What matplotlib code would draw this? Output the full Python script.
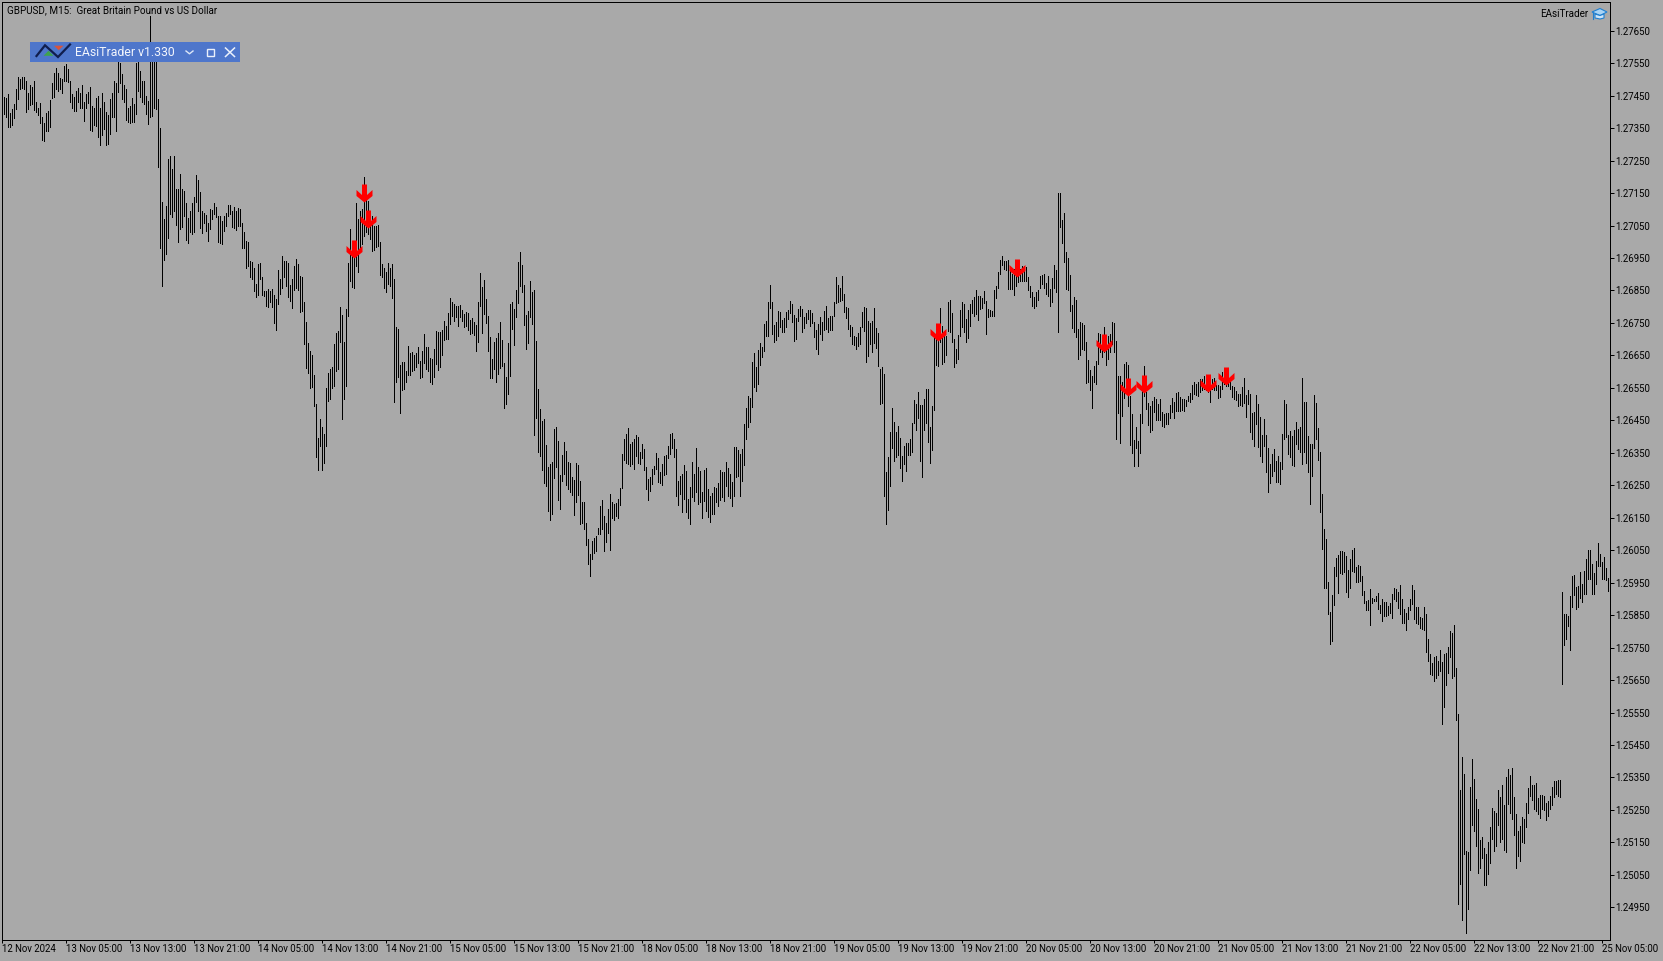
import numpy as np
import matplotlib
matplotlib.use("Agg")
import matplotlib.pyplot as plt
from matplotlib.path import Path
from matplotlib.patches import Rectangle, Polygon

# Prices are in 1e-5 units above PRICE_BASE
PRICE_BASE = 1.2
segment_starts = [0, 113, 228, 343, 458, 573, 688]

highs_1 = [7447,7444,7455,7396,7408,7424,7470,7506,7501,7509,7509,7496,7458,7482,7478,7494,7429,7413,7426,7383,7367,7396,7402,7436,7488,7519,7535,7519,7503,7501,7540,7547,7532,7494,7455,7447,7465,7475,7457,7483,7429,7455,7460,7478,7419,7413,7443,7449,7413,7457,7429,7400,7390,7439,7458,7496,7490,7583,7552,7516,7483,7470,7411,7419,7444,7424,7552,7562,7526,7496,7494,7449,7434,7695,7562,7557,7557,7441,7349,7123,7069,7110,7254,7265,7223,7265,7162,7164,7208,7164,7157,7119,7072,7095,7119,7139,7205,7190,7152,7095,7088,7082,7057,7100,7097,7119,7108,7080,7080,7064,7078,7090,7113]
lows_1 = [7393,7383,7355,7354,7359,7380,7408,7441,7470,7475,7470,7400,7410,7422,7424,7405,7400,7390,7367,7314,7309,7340,7342,7352,7444,7447,7470,7465,7470,7458,7494,7496,7493,7431,7413,7403,7403,7429,7413,7413,7372,7413,7427,7345,7342,7359,7357,7324,7298,7329,7347,7298,7300,7331,7383,7383,7342,7462,7490,7439,7432,7375,7369,7367,7369,7369,7393,7465,7447,7429,7424,7393,7362,7383,7386,7413,7410,7229,6980,6864,6944,6962,7011,7085,7075,7095,7051,7000,7039,7044,7080,7006,6995,7030,7023,7030,7123,7095,7042,7026,7059,7033,7003,7039,7071,7085,7075,7000,6995,6992,7033,7049,7078]

highs_2 = [7113,7096,7108,7096,7103,7101,7057,7029,7003,7000,6942,6939,6918,6870,6931,6934,6890,6849,6849,6854,6849,6854,6836,6823,6914,6885,6955,6942,6942,6934,6867,6885,6926,6947,6931,6895,6893,6813,6752,6688,6664,6651,6589,6500,6397,6454,6428,6408,6551,6595,6608,6613,6685,6719,6724,6798,6774,6690,6793,6936,7039,6993,6959,7119,7070,7096,7101,7201,7137,7126,7049,7080,7049,7049,7051,6998,6931,6918,6908,6934,6918,6931,6885,6736,6731,6620,6630,6630,6603,6678,6657,6661,6651,6656,6675,6633,6664,6716,6675,6677,6641,6639,6669,6724,6723,6721,6729,6757,6741,6780,6826,6815,6808,6801,6803]
lows_2 = [7085,7047,7041,7037,7049,7049,6981,6980,6920,6926,6893,6885,6849,6829,6836,6885,6836,6834,6801,6798,6813,6798,6750,6729,6808,6839,6859,6893,6865,6829,6818,6795,6852,6859,6852,6784,6788,6685,6611,6595,6551,6554,6493,6336,6298,6370,6298,6318,6372,6510,6515,6551,6556,6603,6608,6690,6454,6515,6556,6772,6880,6862,6859,6924,6908,6978,6993,7019,7029,7024,7010,6972,6975,6983,6986,6897,6890,6857,6846,6870,6865,6827,6505,6567,6582,6472,6544,6546,6567,6589,6589,6603,6606,6613,6628,6580,6582,6628,6608,6603,6567,6562,6582,6623,6606,6613,6651,6698,6700,6700,6746,6772,6757,6767,6741]

highs_3 = [6805,6789,6777,6785,6780,6758,6764,6754,6743,6816,6905,6862,6882,6825,6770,6708,6640,6690,6703,6720,6754,6697,6628,6582,6688,6808,6813,6794,6851,6939,6970,6928,6866,6774,6786,6879,6844,6851,6693,6546,6484,6448,6453,6373,6307,6315,6323,6423,6428,6387,6281,6343,6382,6355,6323,6320,6274,6265,6320,6312,6262,6197,6200,6133,6086,6037,6078,6089,6094,6117,6186,6204,6156,6135,6176,6224,6199,6192,6195,6207,6243,6346,6392,6409,6425,6376,6382,6392,6404,6400,6354,6376,6361,6305,6269,6274,6301,6308,6349,6335,6292,6315,6340,6343,6370,6407,6410,6392,6361,6263,6279,6284,6312,6293,6207]
lows_3 = [6767,6756,6738,6741,6729,6715,6718,6713,6664,6692,6803,6718,6777,6749,6664,6581,6581,6607,6568,6592,6611,6616,6488,6500,6530,6587,6731,6681,6768,6811,6864,6846,6744,6669,6688,6768,6746,6405,6458,6353,6340,6297,6256,6248,6171,6143,6161,6272,6307,6205,6176,6263,6284,6250,6238,6230,6219,6159,6197,6219,6130,6133,6115,6065,6007,5970,6022,6041,6047,6100,6099,6115,6047,6075,6102,6051,6148,6142,6156,6148,6188,6243,6327,6320,6315,6308,6315,6299,6340,6320,6317,6335,6296,6238,6205,6233,6253,6284,6299,6260,6256,6250,6282,6284,6335,6346,6366,6338,6217,6189,6222,6168,6207,6168,6149]

highs_4 = [6244,6321,6285,6364,6305,6294,6228,6297,6302,6238,6218,6226,6245,6241,6257,6297,6290,6290,6321,6303,6285,6259,6368,6367,6359,6346,6362,6439,6488,6524,6518,6629,6656,6613,6667,6688,6675,6747,6756,6813,6867,6813,6744,6752,6787,6783,6759,6764,6783,6790,6817,6808,6775,6764,6793,6801,6793,6767,6780,6790,6790,6780,6752,6728,6747,6767,6752,6786,6801,6764,6772,6770,6813,6891,6867,6858,6894,6839,6800,6795,6744,6736,6709,6708,6719,6736,6783,6798,6795,6756,6750,6757,6795,6733,6719,6608,6613,6593,6290,6336,6413,6487,6444,6413,6433,6395,6341,6372,6380,6380,6392,6442,6512,6499,6536]
lows_4 = [6131,6213,6202,6228,6192,6197,6150,6202,6172,6151,6138,6161,6161,6197,6187,6206,6213,6202,6249,6216,6212,6187,6216,6274,6279,6218,6264,6313,6392,6430,6444,6490,6552,6541,6562,6621,6646,6665,6711,6711,6796,6716,6692,6698,6711,6739,6723,6723,6739,6762,6781,6752,6695,6700,6757,6770,6723,6733,6750,6762,6740,6750,6708,6670,6655,6716,6698,6728,6731,6723,6728,6729,6770,6811,6816,6819,6822,6783,6765,6731,6709,6685,6682,6670,6680,6685,6736,6726,6631,6649,6685,6659,6687,6672,6616,6500,6503,6218,6131,6175,6249,6366,6326,6336,6344,6302,6264,6315,6295,6344,6344,6354,6442,6421,6456]

highs_5 = [6497,6497,6515,6546,6548,6428,6493,6710,6710,6710,6795,6741,6710,6710,6813,6821,6782,6700,6669,6712,6789,6813,6808,6762,6790,6807,6820,6831,6852,6834,6834,6828,6849,6817,6792,6790,6787,6851,6864,6908,6943,6955,6941,6941,6943,6916,6900,6916,6926,6926,6916,6924,6924,6921,6893,6864,6844,6831,6844,6851,6895,6897,6902,6873,6895,6854,6887,6928,6914,7149,7150,7067,7088,6967,6949,6897,6805,6831,6821,6731,6754,6749,6743,6690,6635,6606,6587,6616,6633,6719,6715,6700,6736,6690,6710,6715,6754,6749,6693,6587,6587,6569,6622,6631,6620,6525,6469,6389,6428,6387,6468,6546,6618,6536,6503]
lows_5 = [6325,6276,6421,6443,6382,6318,6359,6482,6620,6618,6690,6623,6630,6651,6726,6721,6690,6615,6628,6638,6710,6736,6721,6690,6703,6741,6780,6772,6777,6760,6792,6796,6811,6716,6767,6772,6772,6772,6827,6859,6900,6928,6916,6914,6854,6854,6854,6837,6864,6875,6880,6880,6880,6880,6851,6831,6803,6797,6801,6820,6859,6870,6857,6839,6834,6803,6813,6859,6846,6723,7047,6996,6938,6854,6851,6787,6734,6721,6708,6638,6651,6669,6667,6564,6567,6544,6487,6567,6561,6623,6659,6644,6659,6620,6638,6659,6685,6659,6392,6474,6380,6464,6520,6546,6495,6373,6349,6310,6366,6310,6349,6443,6525,6484,6435]

highs_6 = [6493,6509,6521,6516,6501,6516,6475,6469,6472,6472,6497,6519,6506,6534,6536,6523,6516,6516,6514,6526,6533,6559,6567,6562,6567,6578,6578,6586,6583,6583,6578,6578,6581,6559,6559,6555,6598,6598,6583,6583,6567,6555,6554,6540,6531,6531,6552,6581,6528,6544,6531,6473,6475,6528,6501,6459,6405,6454,6405,6365,6316,6346,6362,6324,6341,6321,6408,6513,6501,6405,6418,6401,6420,6444,6424,6431,6581,6506,6506,6401,6377,6377,6528,6504,6426,6354,6223,6115,6085,5953,5859,5912,5997,6025,6035,6048,6049,6044,6033,5990,6023,6052,6057,5997,6005,6000,5970,5925,5895,5898,5929,5902,5900,5908,5918]
lows_6 = [6415,6419,6475,6451,6452,6452,6434,6430,6440,6440,6457,6475,6457,6480,6480,6480,6483,6480,6493,6509,6508,6516,6531,6528,6524,6536,6542,6545,6542,6536,6505,6547,6542,6542,6519,6523,6545,6562,6557,6555,6547,6521,6516,6513,6494,6497,6493,6503,6460,6501,6415,6391,6372,6439,6367,6341,6321,6370,6292,6230,6257,6280,6295,6261,6259,6255,6300,6391,6398,6346,6336,6311,6308,6377,6362,6352,6316,6352,6319,6290,6193,6280,6364,6391,6329,6169,6054,5935,5935,5854,5762,5770,5881,5972,5918,5980,5977,5982,5922,5907,5933,5987,5984,5951,5951,5956,5912,5887,5867,5867,5821,5887,5893,5893,5869]

highs_7 = [5881,5899,5892,5889,5879,5887,5915,5935,5930,5920,5942,5901,5869,5856,5874,5901,5942,5927,5874,5874,5844,5840,5874,5853,5778,5729,5704,5721,5724,5708,5743,5707,5730,5733,5751,5801,5795,5819,5686,5545,5311,5412,5360,5124,5119,5322,5406,5345,5285,5252,5157,5166,5132,5114,5151,5197,5255,5246,5242,5311,5289,5326,5265,5351,5376,5357,5379,5289,5237,5185,5200,5228,5221,5271,5317,5354,5326,5326,5332,5288,5295,5295,5292,5271,5277,5292,5320,5339,5339,5342,5342,5921,5853,5853,5847,5909,5970,5973,5936,5939,5983,5946,5986,6023,6050,6050,6007,5981,6016,6072,6038,6013,6029,5995,5964]
lows_7 = [5856,5833,5846,5848,5850,5856,5841,5899,5894,5872,5853,5825,5825,5804,5838,5865,5884,5838,5825,5822,5810,5807,5804,5737,5708,5668,5666,5647,5656,5665,5679,5514,5567,5634,5671,5721,5656,5663,5527,4960,5021,4911,5114,4870,4944,5064,5203,5185,5138,5055,5071,5101,5018,5018,5052,5086,5160,5123,5138,5203,5152,5160,5126,5120,5268,5240,5221,5172,5071,5108,5092,5151,5148,5197,5240,5292,5280,5252,5247,5237,5225,5252,5249,5218,5231,5252,5265,5289,5299,5292,5289,5637,5758,5776,5816,5742,5875,5912,5869,5875,5902,5890,5915,5915,5961,5961,5915,5915,5946,6001,6001,5961,5961,5958,5924]

arrow_bars = [180.25, 182, 175.25, 467.25, 506.75, 550.25, 562.25, 570.25, 602.25, 611.25]
arrow_prices = [7122, 7042, 6950, 6694, 6891, 6660, 6525, 6534, 6537, 6559]

y_tick_values = [1.24950 + 0.001 * k for k in range(28)]
x_tick_labels = ["12 Nov 2024", "13 Nov 05:00", "13 Nov 13:00", "13 Nov 21:00",
                 "14 Nov 05:00", "14 Nov 13:00", "14 Nov 21:00",
                 "15 Nov 05:00", "15 Nov 13:00", "15 Nov 21:00",
                 "18 Nov 05:00", "18 Nov 13:00", "18 Nov 21:00",
                 "19 Nov 05:00", "19 Nov 13:00", "19 Nov 21:00",
                 "20 Nov 05:00", "20 Nov 13:00", "20 Nov 21:00",
                 "21 Nov 05:00", "21 Nov 13:00", "21 Nov 21:00",
                 "22 Nov 05:00", "22 Nov 13:00", "22 Nov 21:00", "25 Nov 05:00"]

W, H = 1663, 961
BG = "#A9A9A9"
FONT = "Roboto"
FS = 6.9
plt.rcParams["font.family"] = FONT

fig = plt.figure(figsize=(W / 100, H / 100), dpi=100, facecolor=BG)
ax = fig.add_axes([1.5 / W, (H - 939.5) / H, 1608 / W, 938 / H], facecolor=BG)

highs = [highs_1, highs_2, highs_3, highs_4, highs_5, highs_6, highs_7]
lows = [lows_1, lows_2, lows_3, lows_4, lows_5, lows_6, lows_7]
for start, hi, lo in zip(segment_starts, highs, lows):
    n = min(len(hi), len(lo))
    x = np.arange(start, start + n)
    ax.vlines(x, PRICE_BASE + np.array(lo[:n]) / 1e5, PRICE_BASE + np.array(hi[:n]) / 1e5,
              color="black", linewidth=0.72, antialiased=False, zorder=2)

# MT5 style down arrow, tip at the anchor price
arrow_path = Path([(-2.5, 18), (2.5, 18), (2.5, 7.5), (8, 12.5), (8, 6.5), (0, 0), (-8, 6.5), (-8, 12.5), (-2.5, 7.5), (-2.5, 18)], closed=True)
ax.plot(arrow_bars, PRICE_BASE + np.array(arrow_prices) / 1e5, linestyle="none", marker=arrow_path,
        markersize=36 * 0.72, markerfacecolor="#FF0000", markeredgecolor="none", zorder=3)

ax.set_xlim(-1, 803)
ax.set_ylim(1.24851, 1.27740)
for s in ax.spines.values():
    s.set_color("black")
    s.set_linewidth(0.72)
ax.yaxis.tick_right()
ax.set_yticks(y_tick_values)
ax.set_yticklabels([f"{v:.5f}" for v in y_tick_values])
ax.set_xticks([-1 + 32 * k for k in range(len(x_tick_labels))])
ax.set_xticklabels(x_tick_labels, ha="left")
ax.tick_params(axis="y", length=3, width=0.72, pad=1.2, labelsize=FS, colors="black")
ax.tick_params(axis="x", length=2.5, width=0.72, pad=0.6, labelsize=FS, colors="black")

# Overlay in reference pixel coordinates for chart furniture
ov = fig.add_axes([0, 0, 1, 1], facecolor="none", zorder=5)
ov.set_xlim(0, W)
ov.set_ylim(H, 0)
ov.axis("off")
ov.text(7, 10, "GBPUSD, M15:  Great Britain Pound vs US Dollar", fontsize=7.1, va="center", ha="left", color="black")
ov.text(1588, 14, "EAsiTrader", fontsize=7.1, va="center", ha="right", color="black")

# Panel
ov.add_patch(Rectangle((30, 42), 210, 20, facecolor="#4E76CB", edgecolor="none"))
ov.text(75, 53, "EAsiTrader v1.330", fontsize=8.85, va="center", ha="left", color="#F2F5FC")
ov.add_patch(Polygon([(43.5, 55.8), (53.5, 55.8), (48.5, 50.7)], facecolor="#3FA34D", edgecolor="none"))
ov.add_patch(Polygon([(54, 45.7), (63.5, 45.7), (58.7, 50.2)], facecolor="#D9533B", edgecolor="none"))
ov.plot([36.5, 45, 58, 70], [56, 45.3, 57, 44.5], color="#101E4E", lw=1.6, solid_joinstyle="miter")
ov.plot([186, 189.5, 193], [51, 53.8, 51], color="#DCE6F7", lw=1.0)
ov.add_patch(Rectangle((207, 49), 6.5, 6.5, facecolor="none", edgecolor="#EAF0FB", lw=1.0))
ov.plot([225.5, 234.5], [48, 56.5], color="#EAF0FB", lw=1.1)
ov.plot([225.5, 234.5], [56.5, 48], color="#EAF0FB", lw=1.1)

# Graduation cap icon
ov.add_patch(Polygon([(1592, 12), (1600, 8.5), (1607, 12), (1600, 15.5)], facecolor="#A9D4F5", edgecolor="#1F7FD1", lw=0.8))
ov.add_patch(Polygon([(1595, 14), (1595, 18), (1600, 19), (1604, 18), (1604, 14), (1600, 15.5)], facecolor="#CFE6F8", edgecolor="#1F7FD1", lw=0.8))
ov.plot([1593, 1593], [12.5, 19], color="#1F7FD1", lw=0.8)

fig.savefig("out.png", dpi=100, facecolor=BG)
